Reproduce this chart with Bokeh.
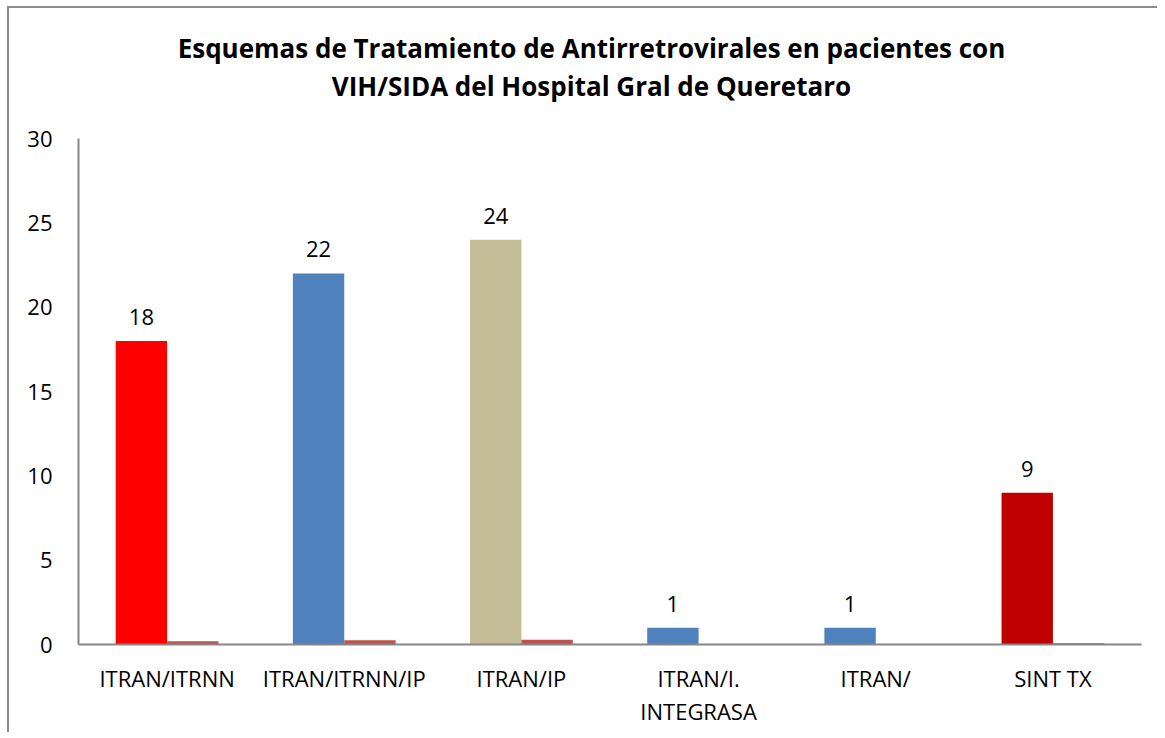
from bokeh.plotting import figure
from bokeh.layouts import column
from bokeh.models import ColumnDataSource, FactorRange, Range1d, FixedTicker, LabelSet
from bokeh.transform import dodge
from bokeh.core.properties import value
from bokeh.embed import file_html
from bokeh.resources import INLINE

categories = ["ITRAN/ITRNN", "ITRAN/ITRNN/IP", "ITRAN/IP", "ITRAN/I.\nINTEGRASA", "ITRAN/", "SINT TX"]
series1 = [18, 22, 24, 1, 1, 9]
series2 = [0.2, 0.25, 0.28, 0, 0, 0.08]
colors1 = ["#FF0000", "#4F81BD", "#C4BD97", "#4F81BD", "#4F81BD", "#C00000"]
color2 = "#C0504D"
y_ticks = [0, 5, 10, 15, 20, 25, 30]
title_lines = ["Esquemas de Tratamiento de Antirretrovirales en pacientes con",
               "VIH/SIDA del Hospital Gral de Queretaro"]

FONT = "Open Sans"
W, H = 1148, 724
TH = 110  # height of the title strip

# ---- title strip (pixel-like coordinates, y downward) ----
tp = figure(width=W, height=TH, x_range=Range1d(0, W), y_range=Range1d(TH, 0),
            output_backend="svg", toolbar_location=None,
            x_axis_location=None, y_axis_location=None,
            min_border_left=0, min_border_right=0, min_border_top=0, min_border_bottom=0)
tp.title = None
tp.xgrid.grid_line_color = None
tp.ygrid.grid_line_color = None
tp.outline_line_color = None
tsrc = ColumnDataSource(dict(x=[554, 554], y=[39, 77], t=title_lines))
tp.text(x="x", y="y", text="t", source=tsrc, text_align="center", text_baseline="middle",
        text_font=value(FONT), text_font_size=value("26px"), text_font_style="bold",
        text_color="#000000")

# ---- main chart ----
src = ColumnDataSource(dict(cat=categories, v1=series1, v2=series2, c1=colors1,
                            lab=[str(v) for v in series1]))

p = figure(width=W, height=H - TH, x_range=FactorRange(*categories), y_range=Range1d(0, 30),
           output_backend="svg", toolbar_location=None,
           min_border_left=69, min_border_right=16, min_border_top=130 - TH, min_border_bottom=88)
p.title = None

p.vbar(x=dodge("cat", -0.145, range=p.x_range), top="v1", width=0.29, source=src,
       fill_color="c1", line_color=None)
p.vbar(x=dodge("cat", 0.145, range=p.x_range), top="v2", width=0.29, source=src,
       fill_color=color2, line_color=None)

labels = LabelSet(x=dodge("cat", -0.145, range=p.x_range), y="v1", text="lab", source=src,
                  text_align="center", text_baseline="bottom", y_offset=16,
                  text_font=value(FONT), text_font_size=value("22px"), text_color="#000000")
p.add_layout(labels)

p.xgrid.grid_line_color = None
p.ygrid.grid_line_color = None
p.outline_line_color = None

p.yaxis.ticker = FixedTicker(ticks=y_ticks)
for ax in (p.xaxis, p.yaxis):
    ax.axis_line_color = "#868686"
    ax.axis_line_width = 2
    ax.major_tick_line_color = None
    ax.minor_tick_line_color = None
    ax.major_tick_out = 0
    ax.major_tick_in = 0
    ax.major_label_text_font = FONT
    ax.major_label_text_font_size = "22px"
    ax.major_label_text_color = "#000000"
p.yaxis.major_label_standoff = 26
p.xaxis.major_label_standoff = 18
p.xaxis.major_label_text_line_height = 1.12

layout = column(tp, p, spacing=0)
layout.styles = {"border-top": "2px solid #8c8c8c", "border-left": "2px solid #8c8c8c",
                 "margin-top": "6px", "margin-left": "7px"}

open("out.html", "w").write(file_html(layout, INLINE))
